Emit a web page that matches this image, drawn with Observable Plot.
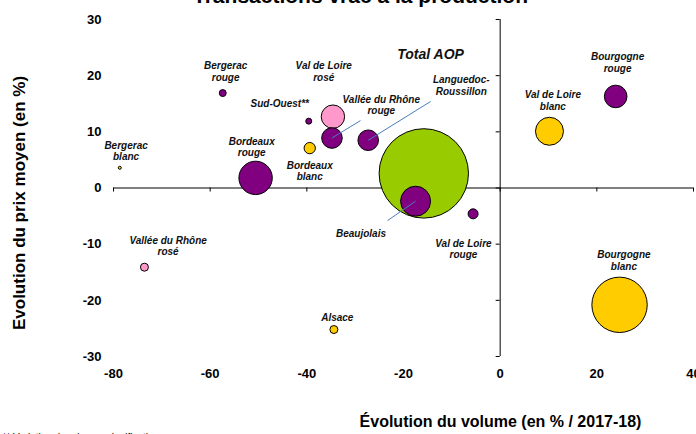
<!DOCTYPE html>
<html><head><meta charset="utf-8">
<script src="https://cdn.jsdelivr.net/npm/d3@7"></script>
<script src="https://cdn.jsdelivr.net/npm/@observablehq/plot@0.6"></script>
<style>
body{margin:0;background:#fff;}
#chart svg{overflow:visible;display:block;}
</style>
</head><body><div id="chart"></div>
<script>
// ---- Data ----
const names = ["Total AOP","Bourgogne blanc","Bordeaux rouge","Beaujolais","Val de Loire blanc","Val de Loire rosé","Bourgogne rouge","Vallée du Rhône rouge","Languedoc-Roussillon","Bordeaux blanc","Val de Loire rouge","Alsace","Vallée du Rhône rosé","Bergerac rouge","Sud-Ouest**","Bergerac blanc"];
const labelTexts = ["Total AOP","Bourgogne\nblanc","Bordeaux\nrouge","Beaujolais","Val de Loire\nblanc","Val de Loire\nrosé","Bourgogne\nrouge","Vallée du Rhône\nrouge","Languedoc-\nRoussillon","Bordeaux\nblanc","Val de Loire\nrouge","Alsace","Vallée du Rhône\nrosé","Bergerac\nrouge","Sud-Ouest**","Bergerac\nblanc"];
const volumeChange = [-15.8, 24.7, -50.6, -17.5, 10.2, -34.6, 23.9, -34.8, -27.3, -39.4, -5.6, -34.4, -73.6, -57.4, -39.6, -78.7];
const priceChange  = [2.6, -20.8, 1.8, -2.35, 10.1, 12.7, 16.3, 8.9, 8.5, 7.1, -4.6, -25.2, -14.1, 16.9, 11.9, 3.6];
const volumes      = [2000, 767, 279, 225, 196, 137, 128, 106, 106, 32, 25, 16, 16, 12, 9, 2.3];
const types        = ["total","blanc","rouge","rouge","blanc","rosé","rouge","rouge","rouge","blanc","rouge","blanc","rosé","rouge","rouge","blanc"];
// label anchor positions (data units)
const labelX = [-14.4, 25.6, -51.4, -28.8, 10.9, -36.5, 24.3, -24.6, -8.05, -39.4, -7.6, -33.7, -68.7, -56.8, -45.6, -77.4];
const labelY = [23.8, -12.9, 7.35, -8.0, 15.6, 20.8, 22.4, 14.8, 18.25, 3.1, -10.8, -23.0, -10.3, 20.8, 15.0, 6.6];
// leader lines
const leaderNames = ["Vallée du Rhône rouge","Languedoc-Roussillon","Beaujolais"];
const leaderX = [-28.9, -14.4, -23.3];
const leaderY = [12.0, 15.4, -5.8];

const xTicks = [-80, -60, -40, -20, 0, 20, 40];
const yTicks = [-30, -20, -10, 0, 10, 20, 30];
const typeDomain = ["rouge","rosé","blanc","total"];
const typeColors = ["#800080","#ff99cc","#ffcc00","#99cc00"];

const title = "Transactions vrac à la production";
const xTitle = "Évolution du volume (en % / 2017-18)";
const yTitle = "Evolution du prix moyen (en %)";
const footnote = "** Variation du prix non significative";

// ---- Build table ----
const points = names.map((n, i) => ({
  name: n, label: labelTexts[i], x: volumeChange[i], y: priceChange[i],
  v: volumes[i], type: types[i], lx: labelX[i], ly: labelY[i]
}));
const byName = new Map(points.map(p => [p.name, p]));
const leaders = leaderNames.map((n, i) => ({from: byName.get(n), x2: leaderX[i], y2: leaderY[i]}));

const font = "'Liberation Sans', Arial, sans-serif";

const chart = Plot.plot({
  width: 696,
  height: 434,
  marginLeft: 113,
  marginRight: 3,
  marginTop: 19,
  marginBottom: 78,
  style: {fontFamily: font, background: "#fff", color: "#000"},
  x: {domain: [xTicks[0], xTicks[xTicks.length - 1]]},
  y: {domain: [yTicks[0], yTicks[yTicks.length - 1]]},
  r: {type: "sqrt", domain: [0, d3.max(volumes)], range: [0, 44.7]},
  color: {domain: typeDomain, range: typeColors},
  marks: [
    Plot.ruleY([0], {stroke: "#000", strokeWidth: 1}),
    Plot.ruleX([0], {stroke: "#000", strokeWidth: 1}),
    Plot.ruleY(yTicks, {x1: 0, x2: 0, insetLeft: -4, stroke: "#000"}),
    Plot.ruleX(xTicks, {y1: 0, y2: 0, insetBottom: -4, stroke: "#000"}),
    Plot.axisY(yTicks, {anchor: "left", tickSize: 0, tickPadding: 12, label: null, tickFormat: d => String(d), fontSize: 13, fontWeight: "bold"}),
    Plot.axisX(xTicks, {anchor: "bottom", tickSize: 0, tickPadding: 12, label: null, tickFormat: d => String(d), fontSize: 13, fontWeight: "bold"}),
    Plot.dot(points, {x: "x", y: "y", r: "v", fill: "type", stroke: "#000", strokeWidth: 1}),
    Plot.link(leaders, {x1: d => d.from.x, y1: d => d.from.y, x2: "x2", y2: "y2", stroke: "#4a7ebb", strokeWidth: 1}),
    Plot.text(points, {x: "lx", y: "ly", text: "label", fontSize: d => d.type === "total" ? 14 : 10, fontStyle: "italic", fontWeight: "bold", lineHeight: 1.15, fill: "#111"}),
    Plot.text([title], {frameAnchor: "top", dy: -16.5, lineAnchor: "bottom", fontSize: 21, fontWeight: "bold", dx: -43, text: d => d}),
    Plot.text([xTitle], {frameAnchor: "bottom", dx: 97, dy: 70, fontSize: 16, fontWeight: "bold", text: d => d}),
    Plot.text([yTitle], {frameAnchor: "left", textAnchor: "middle", dx: -94, dy: 15, rotate: -90, fontSize: 17, fontWeight: "bold", text: d => d}),
    Plot.text([footnote], {frameAnchor: "bottom-left", dx: -111, dy: 84, lineAnchor: "bottom", textAnchor: "start", fontSize: 10, text: d => d})
  ]
});
document.getElementById("chart").appendChild(chart);
</script>
</body></html>
